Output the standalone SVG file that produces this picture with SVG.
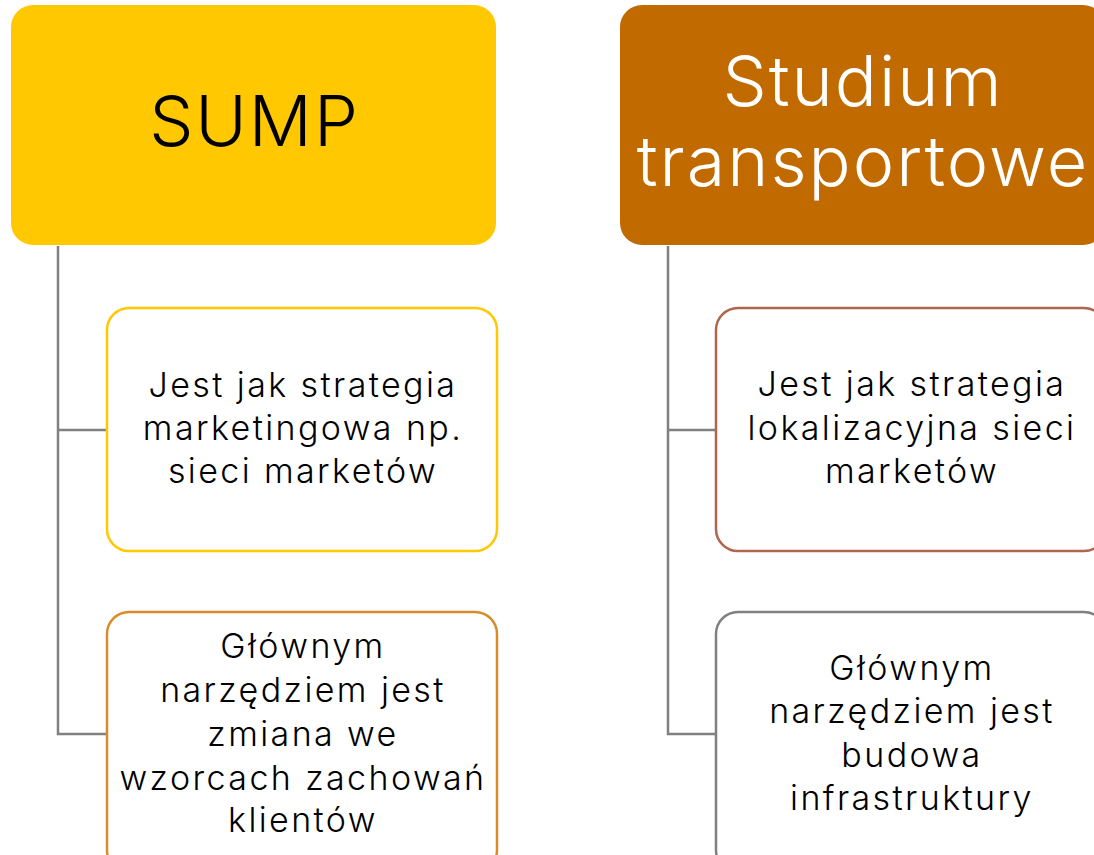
<svg xmlns="http://www.w3.org/2000/svg" width="1094" height="855" viewBox="0 0 1094 855">
<style>
.hdr{stroke:none}
.child{fill:#ffffff;stroke-width:2.5}
.t{font-family:Inter,"Noto Sans",sans-serif;font-weight:300;text-anchor:middle}
.ct{font-size:34px;fill:#000000;letter-spacing:2.4px}
.ht{font-size:70px;letter-spacing:2px}
.conn{fill:none;stroke:#808080;stroke-width:2.5}
</style>
<rect width="1094" height="855" fill="#ffffff"/>
<g id="connectors">
<path class="conn" d="M58,246 V734 H107 M58,430 H107"/>
<path class="conn" d="M668,246 V734 H716 M668,430 H716"/>
</g>
<g id="sump">
<rect class="hdr" x="11" y="5" width="485" height="240" rx="22" fill="#FFC800"/>
<text class="t ht" x="254.5" y="146" fill="#000000">SUMP</text>
</g>
<g id="studium">
<rect class="hdr" x="620" y="5" width="485" height="240" rx="22" fill="#C06A00"/>
<text class="t ht" x="863" y="106" fill="#ffffff">Studium</text>
<text class="t ht" x="863" y="186" fill="#ffffff">transportowe</text>
</g>
<g id="sump-1">
<rect class="child" x="107" y="308" width="390" height="243" rx="22" stroke="#FFC800"/>
<text class="t ct" x="303"><tspan x="303" y="397">Jest jak strategia</tspan><tspan x="303" y="440">marketingowa np.</tspan><tspan x="303" y="483">sieci marketów</tspan></text>
</g>
<g id="sump-2">
<rect class="child" x="107" y="612" width="390" height="260" rx="22" stroke="#D98B2B"/>
<text class="t ct" x="303"><tspan x="303" y="658">Głównym</tspan><tspan x="303" y="702">narzędziem jest</tspan><tspan x="303" y="746">zmiana we</tspan><tspan x="303" y="790">wzorcach zachowań</tspan><tspan x="303" y="832">klientów</tspan></text>
</g>
<g id="studium-1">
<rect class="child" x="716" y="308" width="390" height="243" rx="22" stroke="#B0664E"/>
<text class="t ct" x="912"><tspan x="912" y="396">Jest jak strategia</tspan><tspan x="912" y="440">lokalizacyjna sieci</tspan><tspan x="912" y="483">marketów</tspan></text>
</g>
<g id="studium-2">
<rect class="child" x="716" y="612" width="390" height="260" rx="22" stroke="#808080"/>
<text class="t ct" x="912"><tspan x="912" y="680">Głównym</tspan><tspan x="912" y="723">narzędziem jest</tspan><tspan x="912" y="767">budowa</tspan><tspan x="912" y="810">infrastruktury</tspan></text>
</g>
</svg>
